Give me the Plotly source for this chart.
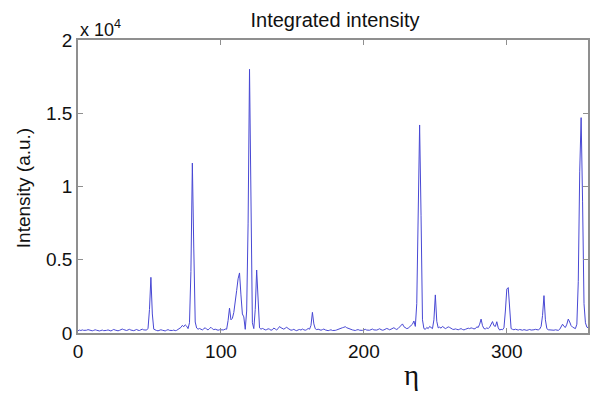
import plotly.graph_objects as go

eta = list(range(0, 358))
intensity = [
    150, 200, 170, 210, 180, 160, 190, 230, 200, 170,
    150, 180, 220, 190, 160, 140, 170, 200, 160, 150,
    180, 210, 170, 140, 190, 240, 200, 170, 150, 180,
    220, 270, 230, 190, 170, 210, 250, 200, 180, 160,
    200, 240, 190, 170, 220, 260, 210, 180, 200, 320,
    1600, 3800, 1300, 260, 190, 170, 150, 180, 220, 190,
    160, 140, 190, 230, 180, 150, 170, 200, 160, 180,
    240, 300, 380, 520, 430, 560, 470, 300, 700, 4200,
    11600, 5800, 750, 340, 260, 310, 270, 210, 290, 360,
    260, 210, 310, 390, 290, 230, 260, 210, 190, 220,
    200, 180, 210, 270, 260, 850, 1700, 900, 1000, 1400,
    2000, 2900, 3700, 4100, 2600, 1300, 1100, 250, 1500, 7500,
    18000, 7000, 700, 300, 1600, 4300, 1800, 350, 260, 310,
    270, 210, 230, 290, 260, 190, 220, 340, 270, 210,
    300, 440, 360, 290, 260, 330, 390, 310, 230, 190,
    210, 250, 190, 160, 210, 240, 200, 270, 220, 190,
    230, 310, 260, 520, 1410, 620, 290, 230, 260, 210,
    190, 230, 270, 210, 180, 160, 190, 220, 170, 150,
    180, 210, 260, 290, 310, 360, 390, 430, 360, 310,
    270, 240, 210, 190, 170, 210, 230, 190, 160, 180,
    210, 250, 200, 170, 190, 230, 270, 210, 180, 200,
    240, 290, 230, 190, 210, 260, 310, 270, 220, 260,
    310, 360, 290, 240, 310, 420, 520, 620, 430, 330,
    300, 330, 420, 560, 600, 820, 450, 2000, 9000, 14200,
    8000, 900, 300, 250, 380, 300, 450, 350, 300, 900,
    2600, 800, 350, 400, 330, 450, 380, 300, 350, 420,
    380, 300, 260, 240, 280, 250, 220, 260, 300, 240,
    210, 250, 290, 330, 300, 350, 320, 280, 300, 420,
    380, 600, 950, 500, 300, 280, 350, 300, 400, 550,
    780, 500, 450, 770, 350, 200, 250, 220, 350, 1500,
    3000, 3100, 1400, 300, 250, 220, 260, 230, 200, 240,
    210, 190, 230, 200, 180, 210, 240, 200, 190, 220,
    250, 230, 210, 270, 450, 1200, 2550, 900, 300, 220,
    200, 230, 210, 190, 220, 200, 180, 250, 420, 600,
    450, 380, 600, 950, 750, 500, 400, 350, 300, 600,
    3500, 11000, 14700, 9000, 2000, 700, 400, 350,
]

x_ticks = [0, 100, 200, 300]
x_tick_labels = ["0", "100", "200", "300"]
y_ticks = [0, 5000, 10000, 15000, 20000]
y_tick_labels = ["0", "0.5", "1", "1.5", "2"]

W, H = 590, 394
L, R, T, B = 78, 0, 40, 61
pw, ph = W - L - R, H - T - B

def px_to_paper(px, py):
    return (px - L) / pw, (H - B - py) / ph

font_main = "Liberation Sans, Arial, sans-serif"
axis_col = "#8f8f8f"

fig = go.Figure(go.Scatter(
    x=eta, y=intensity, mode="lines",
    line=dict(color="#4848d4", width=1),
    showlegend=False, hoverinfo="skip",
))

ax_common = dict(
    showgrid=False, zeroline=False, showline=True, linecolor=axis_col, linewidth=1.5,
    ticks="inside", ticklen=5, tickcolor=axis_col, tickwidth=1, mirror="ticks",
    tickfont=dict(family=font_main, size=19, color="#111"),
)

fig.update_layout(
    width=W, height=H,
    margin=dict(l=L, r=R, t=T, b=B, pad=0),
    paper_bgcolor="white", plot_bgcolor="white",
    xaxis=dict(range=[0, 356.8], tickmode="array", tickvals=x_ticks, ticktext=x_tick_labels, **ax_common),
    yaxis=dict(range=[0, 20000], tickmode="array", tickvals=y_ticks, ticktext=y_tick_labels, **ax_common),
    title=dict(text="Integrated intensity", x=335 / W, xref="container", xanchor="center",
               y=1 - 20 / H, yref="container", yanchor="middle",
               font=dict(family=font_main, size=20, color="#111")),
)

ax, ay = px_to_paper(23, 188)
fig.add_annotation(x=ax, y=ay, xref="paper", yref="paper", text="Intensity (a.u.)",
                   textangle=-90, showarrow=False, xanchor="center", yanchor="middle",
                   font=dict(family=font_main, size=19, color="#111"))
ex, ey = px_to_paper(413, 375)
fig.add_annotation(x=ex, y=ey, xref="paper", yref="paper", text="η",
                   showarrow=False, xanchor="center", yanchor="middle",
                   font=dict(family="Liberation Serif, DejaVu Serif, serif", size=29, color="#111"))
fig.add_annotation(x=0, y=1, xref="paper", yref="paper", text="x 10<sup>4</sup>",
                   showarrow=False, xanchor="left", yanchor="bottom", yshift=-2,
                   font=dict(family=font_main, size=18, color="#111"))

fig.write_html("out.html")
